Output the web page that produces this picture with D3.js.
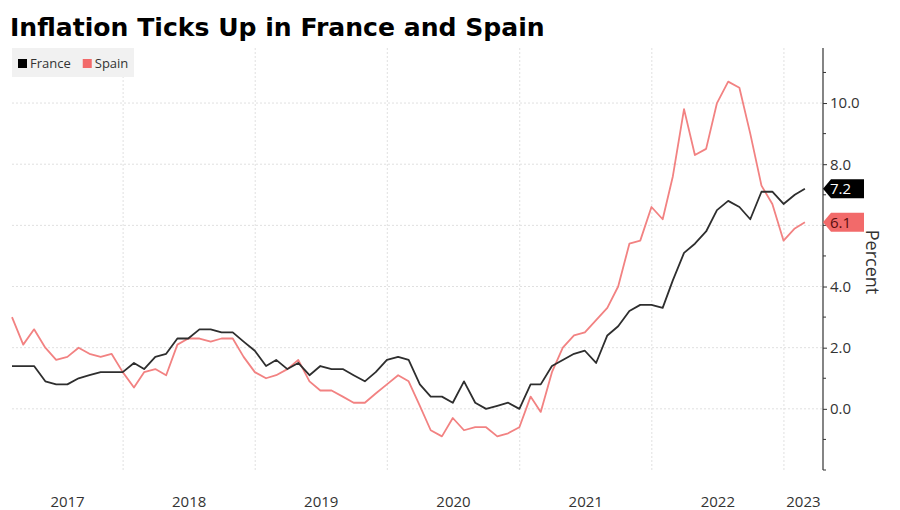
<!DOCTYPE html>
<html>
<head>
<meta charset="UTF-8">
<title>Inflation Ticks Up in France and Spain</title>
<script src="https://d3js.org/d3.v7.min.js"></script>
<style>
  body { margin: 0; background: #fff; }
  svg { display: block; }
  text { font-family: "Open Sans", "Noto Sans", sans-serif; }
</style>
</head>
<body>
<svg id="chart" width="900" height="510"></svg>
<script>
// monthly HICP, y/y %, Feb 2017 - Feb 2023
const months = [
  '2017-02','2017-03','2017-04','2017-05','2017-06','2017-07','2017-08','2017-09','2017-10','2017-11','2017-12',
  '2018-01','2018-02','2018-03','2018-04','2018-05','2018-06','2018-07','2018-08','2018-09','2018-10','2018-11','2018-12',
  '2019-01','2019-02','2019-03','2019-04','2019-05','2019-06','2019-07','2019-08','2019-09','2019-10','2019-11','2019-12',
  '2020-01','2020-02','2020-03','2020-04','2020-05','2020-06','2020-07','2020-08','2020-09','2020-10','2020-11','2020-12',
  '2021-01','2021-02','2021-03','2021-04','2021-05','2021-06','2021-07','2021-08','2021-09','2021-10','2021-11','2021-12',
  '2022-01','2022-02','2022-03','2022-04','2022-05','2022-06','2022-07','2022-08','2022-09','2022-10','2022-11','2022-12',
  '2023-01','2023-02'
]
const france = [
  1.4, 1.4, 1.4, 0.9, 0.8, 0.8, 1.0, 1.1, 1.2, 1.2, 1.2,
  1.5, 1.3, 1.7, 1.8, 2.3, 2.3, 2.6, 2.6, 2.5, 2.5, 2.2, 1.9,
  1.4, 1.6, 1.3, 1.5, 1.1, 1.4, 1.3, 1.3, 1.1, 0.9, 1.2, 1.6,
  1.7, 1.6, 0.8, 0.4, 0.4, 0.2, 0.9, 0.2, 0.0, 0.1, 0.2, 0.0,
  0.8, 0.8, 1.4, 1.6, 1.8, 1.9, 1.5, 2.4, 2.7, 3.2, 3.4, 3.4,
  3.3, 4.2, 5.1, 5.4, 5.8, 6.5, 6.8, 6.6, 6.2, 7.1, 7.1, 6.7,
  7.0, 7.2
]
const spain = [
  3.0, 2.1, 2.6, 2.0, 1.6, 1.7, 2.0, 1.8, 1.7, 1.8, 1.2,
  0.7, 1.2, 1.3, 1.1, 2.1, 2.3, 2.3, 2.2, 2.3, 2.3, 1.7, 1.2,
  1.0, 1.1, 1.3, 1.6, 0.9, 0.6, 0.6, 0.4, 0.2, 0.2, 0.5, 0.8,
  1.1, 0.9, 0.1, -0.7, -0.9, -0.3, -0.7, -0.6, -0.6, -0.9, -0.8, -0.6,
  0.4, -0.1, 1.2, 2.0, 2.4, 2.5, 2.9, 3.3, 4.0, 5.4, 5.5, 6.6,
  6.2, 7.6, 9.8, 8.3, 8.5, 10.0, 10.7, 10.5, 9.0, 7.3, 6.7, 5.5,
  5.9, 6.1
]
const yGrid = [0, 2, 4, 6, 8, 10]
const yTicks = [0, 2, 4, 8, 10]      // 6.0 sits under the Spain tag
const yMinorTicks = [-2, -1, 1, 3, 5, 6, 7, 9, 11]
const yearLabels = ['2017', '2018', '2019', '2020', '2021', '2022', '2023']

const seriesNames = ['France', 'Spain']
const colors = { France: '#2e2e2e', Spain: '#f28282' }
const tagFill = { France: '#000000', Spain: '#f26a6a' }
const tagText = { France: '#ffffff', Spain: '#5a0d0d' }

const svg = d3.select('#chart')
const plot = { left: 12, right: 823, top: 48, bottom: 470 }

// points sit at month end
const parseMonth = s => {
  const d = d3.timeParse('%Y-%m')(s)
  return d3.timeDay.offset(d3.timeMonth.offset(d, 1), -1)
}
const dates = months.map(parseMonth)

const x = d3.scaleTime()
  .domain([dates[0], d3.timeDay.offset(dates[dates.length - 1], 50)])
  .range([plot.left, plot.right])

const y = d3.scaleLinear()
  .domain([-2, 11.8])
  .range([plot.bottom, plot.top])

// title
const title = svg.append('text')
  .attr('x', 10)
  .attr('y', 36)
  .style('font-family', '"DejaVu Sans", sans-serif')
  .style('font-weight', 'bold')
  .style('font-size', '24px')
  .style('fill', '#000')
  .text('Inflation Ticks Up in France and Spain')
const tw = title.node().getComputedTextLength()
title.style('font-size', (24 * 535 / tw) + 'px')

// grid
const yearStarts = yearLabels.slice(1).map(s => new Date(+s, 0, 1))
svg.append('g')
  .selectAll('line')
  .data(yearStarts)
  .join('line')
  .attr('x1', d => x(d)).attr('x2', d => x(d))
  .attr('y1', plot.top).attr('y2', plot.bottom)
  .style('stroke', '#e0e0e0')
  .style('stroke-width', 1)
  .style('stroke-dasharray', '2,2')

svg.append('g')
  .selectAll('line')
  .data(yGrid)
  .join('line')
  .attr('x1', plot.left).attr('x2', plot.right)
  .attr('y1', d => y(d)).attr('y2', d => y(d))
  .style('stroke', '#e0e0e0')
  .style('stroke-width', 1)
  .style('stroke-dasharray', '2,2')

// legend
svg.append('rect')
  .attr('x', 12).attr('y', 48)
  .attr('width', 122).attr('height', 29)
  .style('fill', '#f1f1f1')

let lx = 18
seriesNames.forEach(name => {
  svg.append('rect')
    .attr('x', lx).attr('y', 59)
    .attr('width', 9).attr('height', 9)
    .style('fill', name === 'France' ? '#000' : '#f26a6a')
  const t = svg.append('text')
    .attr('x', lx + 12).attr('y', 68)
    .style('font-size', '13px')
    .style('fill', '#333')
    .text(name)
  lx += 12 + t.node().getComputedTextLength() + 12
})

// lines
const line = d3.line()
  .x((d, i) => x(dates[i]))
  .y(d => y(d))

const values = { France: france, Spain: spain }
;['Spain', 'France'].forEach(name => {
  svg.append('path')
    .datum(values[name])
    .attr('d', line)
    .style('fill', 'none')
    .style('stroke', colors[name])
    .style('stroke-width', 1.8)
    .style('stroke-linejoin', 'round')
})

// right axis
const yAxis = d3.axisRight(y)
  .tickValues(yTicks)
  .tickSize(4)
  .tickPadding(3)
  .tickFormat(d3.format('.1f'))
const ga = svg.append('g')
  .attr('transform', `translate(${plot.right},0)`)
  .call(yAxis)
ga.select('.domain').remove()
ga.selectAll('.tick line').style('stroke', '#333')
ga.selectAll('.tick text')
  .style('font-size', '15px')
  .style('fill', '#333')
  .style('font-family', '"Open Sans", sans-serif')

svg.append('line')
  .attr('x1', plot.right).attr('x2', plot.right)
  .attr('y1', plot.top).attr('y2', plot.bottom)
  .style('stroke', '#333')
  .style('stroke-width', 1.2)

svg.append('g')
  .selectAll('line')
  .data(yMinorTicks)
  .join('line')
  .attr('x1', plot.right).attr('x2', plot.right + 3)
  .attr('y1', d => y(d)).attr('y2', d => y(d))
  .style('stroke', '#333')

// year labels centred on the visible part of each year
const [d0, d1] = x.domain()
svg.append('g')
  .selectAll('text')
  .data(yearLabels)
  .join('text')
  .attr('x', s => {
    const a = new Date(+s, 0, 1), b = new Date(+s + 1, 0, 1)
    const lo = a < d0 ? d0 : a, hi = b > d1 ? d1 : b
    return (x(lo) + x(hi)) / 2
  })
  .attr('y', 507)
  .attr('text-anchor', 'middle')
  .style('font-size', '15px')
  .style('fill', '#333')
  .text(s => s)

// axis title
svg.append('text')
  .attr('transform', 'translate(866,262) rotate(90)')
  .attr('text-anchor', 'middle')
  .style('font-size', '18px')
  .style('fill', '#333')
  .text('Percent')

// last value tags
seriesNames.forEach(name => {
  const v = values[name][values[name].length - 1]
  const cy = y(v)
  const x0 = plot.right, w = 41, h = 19, tip = 8
  svg.append('path')
    .attr('d', `M${x0},${cy} L${x0 + tip},${cy - h / 2} L${x0 + w},${cy - h / 2} L${x0 + w},${cy + h / 2} L${x0 + tip},${cy + h / 2} Z`)
    .style('fill', tagFill[name])
  svg.append('text')
    .attr('x', x0 + 7)
    .attr('y', cy + 5.5)
    .style('font-size', '15px')
    .style('fill', tagText[name])
    .text(d3.format('.1f')(v))
})
</script>
</body>
</html>
